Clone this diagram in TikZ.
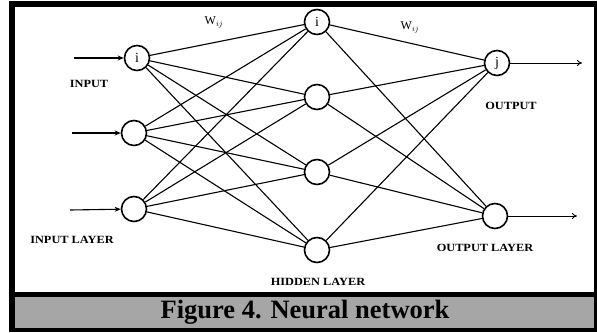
\documentclass[tikz,border=0pt]{standalone}
\usepackage{fontspec}
\setmainfont{Liberation Serif}
\usetikzlibrary{arrows.meta}
\definecolor{capgray}{RGB}{166,166,166}
\tikzset{
  neuron/.style={circle, draw, line width=1.6pt, minimum size=25pt, inner sep=0pt, font=\fontsize{14}{14}\selectfont},
  link/.style={line width=1.1pt},
  inarrow/.style={line width=1.1pt, -{Stealth[length=6pt,width=5pt]}},
  outarrow/.style={line width=0.9pt, -{To[length=5pt,width=6pt]}},
  lbl/.style={font=\fontsize{11}{11}\selectfont\bfseries, inner sep=0pt, xscale=1.12, transform shape},
  wlbl/.style={font=\fontsize{12}{12}\selectfont, inner sep=0pt},
}
\begin{document}
\begin{tikzpicture}[x=1pt,y=-1pt]
\useasboundingbox (0,0) rectangle (597,332);
% frame
\fill[black] (9,1) rectangle (597,332);
\fill[white] (15,7) rectangle (594,292);
\fill[capgray] (15,297) rectangle (594,328);
\node[font=\fontsize{26.5}{26.5}\selectfont\bfseries, inner sep=0pt] (cap) at (305,312) {Figure 4. Neural network};
% nodes
\node[neuron] (in1) at (137,58) {i};
\node[neuron] (in2) at (134,133) {};
\node[neuron] (in3) at (134,209) {};
\node[neuron] (h1) at (317,22) {i};
\node[neuron] (h2) at (317,97) {};
\node[neuron] (h3) at (317,172) {};
\node[neuron] (h4) at (317,250) {};
\node[neuron] (o1) at (497,63) {j};
\node[neuron] (o2) at (495,216) {};
% connections
\foreach \a in {in1,in2,in3}{
  \foreach \b in {h1,h2,h3,h4}{
    \draw[link] (\a) -- (\b);
  }
}
\foreach \a in {h1,h2,h3,h4}{
  \foreach \b in {o1,o2}{
    \draw[link] (\a) -- (\b);
  }
}
% input/output arrows
\coordinate (a1) at (74,58);
\coordinate (a2) at (72,133);
\coordinate (a3) at (70,210);
\coordinate (b1) at (582,63);
\coordinate (b2) at (577,216);
\draw[inarrow] (a1) -- (in1);
\draw[inarrow] (a2) -- (in2);
\draw[inarrow] (a3) -- (in3);
\draw[outarrow] (o1) -- (b1);
\draw[outarrow] (o2) -- (b2);
% labels
\node[wlbl] (w1) at (214,22) {W$_{\scriptstyle ij}$};
\node[wlbl] (w2) at (410,27) {W$_{\scriptstyle ij}$};
\node[lbl] (linput) at (89,84) {INPUT};
\node[lbl] (linlayer) at (72,240) {INPUT LAYER};
\node[lbl] (lhidden) at (318,282) {HIDDEN LAYER};
\node[lbl] (loutput) at (511,106) {OUTPUT};
\node[lbl] (loutlayer) at (485,248) {OUTPUT LAYER};
\end{tikzpicture}
\end{document}
